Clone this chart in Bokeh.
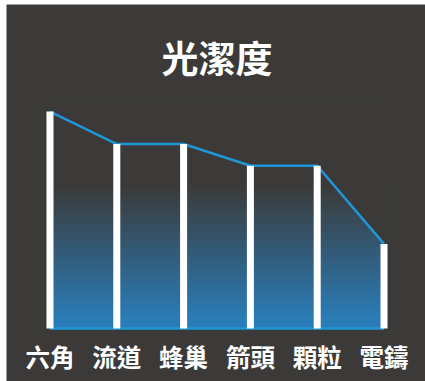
import numpy as np
from bokeh.plotting import figure
from bokeh.models import Range1d, ColumnDataSource
from bokeh.core.properties import value
from bokeh.embed import file_html
from bokeh.resources import INLINE

# ---- data ----
title_text = "光潔度"
categories = ["六角", "流道", "蜂巢", "箭頭", "顆粒", "電鑄"]
values = [100, 85, 85, 75, 75, 39]

# ---- styles ----
BG = "#3b3a38"
LINE = "#1e96d8"
FILL = (0x2a, 0x7c, 0xb8)
FONT = "Noto Sans CJK TC"

xs = list(range(len(categories)))
n = len(xs)

p = figure(width=425, height=381, output_backend="svg", toolbar_location=None,
           x_range=Range1d(-0.651, 5.621), y_range=Range1d(-24.42, 149.31),
           min_border_left=6, min_border_top=4, min_border_right=0, min_border_bottom=0,
           background_fill_color=BG, border_fill_color="white", outline_line_color=None)
p.axis.visible = False
p.grid.visible = False

# gradient fill below the line (image, then mask above the line)
g_top, g_span = 66.0, 62.0
N = 256
vals = (np.arange(N) + 0.5) * g_top / N
alpha = np.clip((g_top - vals) / g_span, 0, 1)
bg = np.array([0x3b, 0x3a, 0x38], dtype=float)
fc = np.array(FILL, dtype=float)
cols = (bg[None, :] * (1 - alpha[:, None]) + fc[None, :] * alpha[:, None]).round().astype(np.uint32)
img = np.empty((N, 1), dtype=np.uint32)
img[:, 0] = (255 << 24) | (cols[:, 2] << 16) | (cols[:, 1] << 8) | cols[:, 0]
p.image_rgba(image=[img], x=xs[0], y=0, dw=xs[-1] - xs[0], dh=g_top)

p.varea(x=xs, y1=values, y2=[g_top + 40] * n, fill_color=BG)

# line and baseline
p.line(x=xs, y=values, line_color=LINE, line_width=2.5)
p.line(x=xs, y=[0] * n, line_color=LINE, line_width=2.5)

# white bars
p.vbar(x=xs, top=values, bottom=0, width=0.105, fill_color="white", line_color=None)

# category labels
src = ColumnDataSource(dict(x=xs, y=[-12.9] * n, t=categories))
p.text(x="x", y="y", text="t", source=src, text_align="center", text_baseline="middle",
       text_color="white", text_font=value(FONT), text_font_style="bold",
       text_font_size="24.5px")

# title
p.text(x=[(xs[0] + xs[-1]) / 2], y=[125.3], text=[title_text], text_align="center",
       text_baseline="middle", text_color="white", text_font=value(FONT),
       text_font_style="bold", text_font_size="37px")

open("out.html", "w").write(file_html(p, INLINE))
